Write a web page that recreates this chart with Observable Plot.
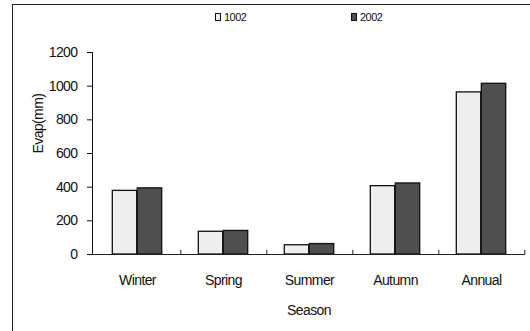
<!DOCTYPE html>
<html>
<head>
<meta charset="utf-8">
<script src="https://cdn.jsdelivr.net/npm/d3@7"></script>
<script src="https://cdn.jsdelivr.net/npm/@observablehq/plot@0.6"></script>
<style>
  body { margin: 0; background: #fff; font-family: "Liberation Sans", Arial, sans-serif; }
  #page { position: relative; width: 530px; height: 331px; overflow: hidden; }
  #frame { position: absolute; left: 12px; top: 4px; width: 540px; height: 360px;
           border-left: 1px solid #222; border-top: 1px solid #222; }
  #legend { position: relative; height: 30px; font-size: 11px; letter-spacing: -0.5px; color: #111; }
  .item { position: absolute; top: 11px; display: flex; align-items: center; gap: 3px; }
  .sw { width: 6px; height: 8px; border: 1px solid #111; box-sizing: border-box; }
  #chart { position: relative; }
  #chart svg text { letter-spacing: -0.6px; }
</style>
</head>
<body>
<div id="page">
  <div id="frame"></div>
  <div id="legend"></div>
  <div id="chart"></div>
</div>
<script>
// Seasonal evaporation totals (mm) for the two periods
const seasons = ["Winter", "Spring", "Summer", "Autumn", "Annual"];
const years = ["1002", "2002"];
const evap1002 = [378, 135, 55, 406, 963];
const evap2002 = [393, 140, 62, 422, 1014];
const yTicks = [0, 200, 400, 600, 800, 1000, 1200];

const colors = {"1002": "#eeeeee", "2002": "#4f4f4f"};

const rows = seasons.flatMap((s, i) => [
  {season: s, year: "1002", value: evap1002[i]},
  {season: s, year: "2002", value: evap2002[i]}
]);

const width = 530, height = 301;
const marginLeft = 92, marginRight = 5;
const step = (width - marginLeft - marginRight) / seasons.length;
const barW = 25;

// Legend
const legend = document.getElementById("legend");
const legendX = {"1002": 215, "2002": 351};
for (const y of years) {
  const it = document.createElement("div");
  it.className = "item";
  it.style.left = legendX[y] + "px";
  it.innerHTML = `<span class="sw" style="background:${colors[y]}"></span><span>${y}</span>`;
  legend.appendChild(it);
}

const chart = Plot.plot({
  width, height,
  marginLeft, marginRight,
  marginTop: 22, marginBottom: 77,
  style: {fontFamily: "'Liberation Sans', Arial, sans-serif", fontSize: "14px", color: "#111", background: "transparent"},
  x: {
    domain: seasons, padding: 0,
    tickSize: 0, tickPadding: 21,
    label: "Season", labelAnchor: "center", labelOffset: 60
  },
  y: {
    domain: [0, 1200], ticks: yTicks, tickFormat: d => String(d),
    tickSize: 5, tickPadding: 10, line: true,
    label: null
  },
  marks: [
    Plot.barY(rows.filter(d => d.year === "1002"), {
      x: "season", y: "value", fill: colors["1002"], stroke: "#111", strokeWidth: 1.3,
      insetLeft: step / 2 - barW, insetRight: step / 2
    }),
    Plot.barY(rows.filter(d => d.year === "2002"), {
      x: "season", y: "value", fill: colors["2002"], stroke: "#111", strokeWidth: 1.3,
      insetLeft: step / 2, insetRight: step / 2 - barW
    }),
    Plot.ruleY([0], {stroke: "#222"}),
    Plot.ruleX(seasons, {x: d => d, dx: step / 2, y1: 0, y2: 25, stroke: "#222"}),
    // rotated y-axis title
    Plot.text(["Evap(mm)"], {frameAnchor: "left", rotate: -90, dx: -54, fontSize: 14})
  ]
});
document.getElementById("chart").appendChild(chart);
</script>
</body>
</html>
